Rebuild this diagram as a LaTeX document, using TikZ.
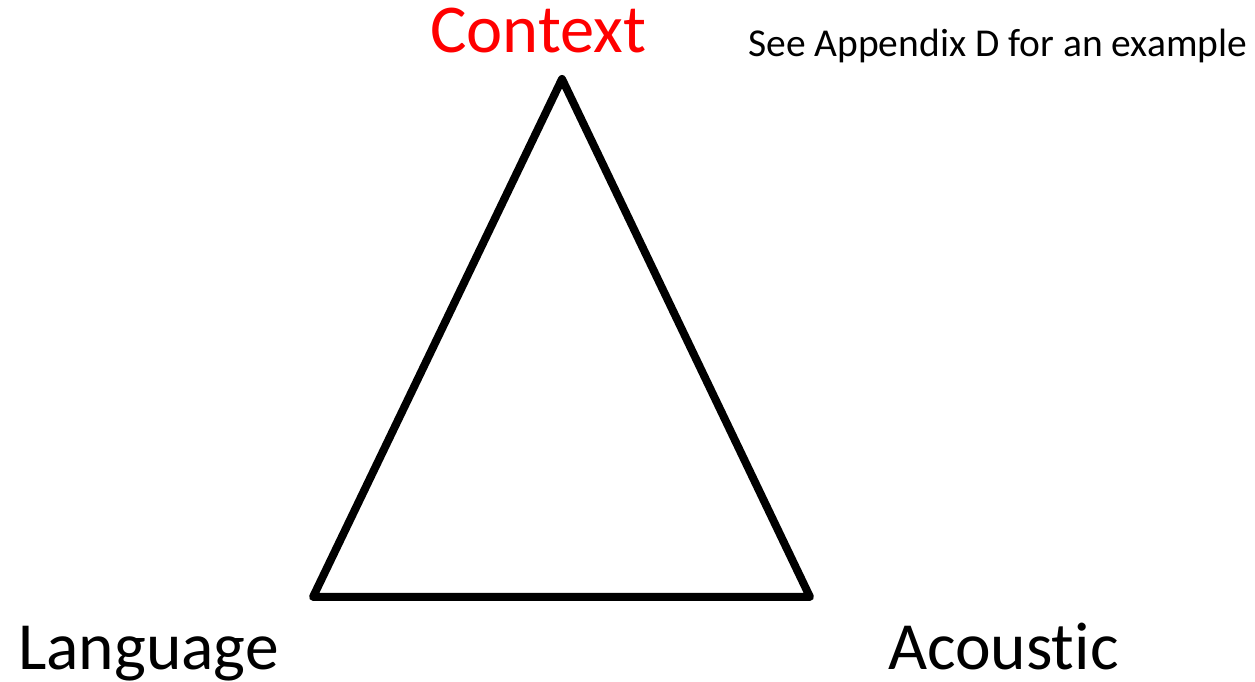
\documentclass[tikz,border=0pt]{standalone}
\usepackage{fontspec}
\setmainfont[Ligatures=NoCommon]{Carlito}
\begin{document}
\begin{tikzpicture}[x=1pt,y=1pt,
  lbl/.style={inner sep=0pt, anchor=base west, font=\fontsize{67.5}{67.5}\selectfont},
  note/.style={inner sep=0pt, anchor=base west, font=\fontsize{39.5}{39.5}\selectfont},
  edge/.style={line width=8pt, line join=round, line cap=round}]
\useasboundingbox (0,0) rectangle (1255,682);
\coordinate (top) at (562,603);
\coordinate (bl) at (313,85);
\coordinate (br) at (810,85);
\draw[edge] (top) -- (bl) -- (br) -- cycle;
\node[lbl, text=red, font=\fontsize{68.5}{68.5}\selectfont] (ctx) at (430,629) {Context};
\node[note] (see) at (748,625) {See Appendix D for an example};
\node[lbl] (lang) at (18,12) {Language};
\node[lbl] (ac) at (888,12) {Acoustic};
\end{tikzpicture}
\end{document}
